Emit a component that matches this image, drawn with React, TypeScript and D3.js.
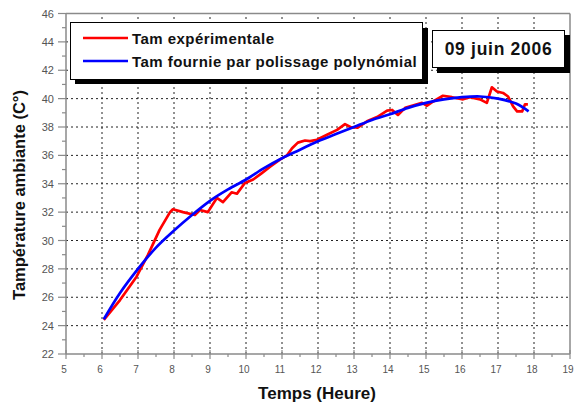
import React from "react";
import * as d3 from "d3";

// Measured ambient temperature (hour, °C)
const expHours = [6.05, 6.5, 6.96, 7.28, 7.6, 7.89, 7.97, 8.25, 8.58, 8.72, 8.94, 9.19, 9.36, 9.6, 9.75, 9.97, 10.2, 10.44, 10.67, 10.94, 11.14, 11.28, 11.44, 11.64, 11.78, 11.97, 12.25, 12.53, 12.75, 12.9, 13.1, 13.36, 13.64, 13.92, 14.06, 14.22, 14.42, 14.75, 14.89, 15.03, 15.2, 15.47, 15.72, 16.03, 16.22, 16.5, 16.69, 16.83, 16.97, 17.14, 17.28, 17.42, 17.53, 17.67, 17.75, 17.83];
const expTemps = [24.4, 25.8, 27.45, 29.0, 30.75, 32.0, 32.2, 32.0, 31.8, 32.15, 32.0, 33.0, 32.7, 33.4, 33.3, 34.05, 34.3, 34.75, 35.2, 35.7, 36.0, 36.5, 36.9, 37.05, 37.0, 37.1, 37.45, 37.8, 38.2, 38.0, 37.95, 38.4, 38.7, 39.15, 39.2, 38.85, 39.35, 39.6, 39.7, 39.5, 39.8, 40.2, 40.1, 39.95, 40.1, 39.95, 39.7, 40.8, 40.5, 40.4, 40.15, 39.45, 39.1, 39.1, 39.6, 39.6];

// Polynomial fit (hour, °C)
const fitHours = [6.05, 6.5, 7, 7.5, 8, 8.5, 9, 9.5, 10, 10.5, 11, 11.5, 12, 12.5, 13, 13.5, 14, 14.5, 15, 15.5, 16, 16.5, 17, 17.5, 17.85];
const fitTemps = [24.45, 26.3, 28.0, 29.5, 30.7, 31.8, 32.8, 33.6, 34.3, 35.1, 35.8, 36.4, 37.0, 37.5, 38.0, 38.5, 38.9, 39.35, 39.7, 39.95, 40.1, 40.15, 40.0, 39.65, 39.1];

const xTicks = [5, 6, 7, 8, 9, 10, 11, 12, 13, 14, 15, 16, 17, 18, 19];
const yTicks = [22, 24, 26, 28, 30, 32, 34, 36, 38, 40, 42, 44, 46];

const legendLabels = ["Tam expérimentale", "Tam fournie par polissage polynómial"];
const dateLabel = "09 juin 2006";

export default function App() {
  const W = 576, H = 407;
  const x = d3.scaleLinear().domain([5, 19]).range([66, 570]);
  const y = d3.scaleLinear().domain([22, 46]).range([354, 13.5]);

  const expData = expHours.map((h, i) => [h, expTemps[i]] as [number, number]);
  const fitData = fitHours.map((h, i) => [h, fitTemps[i]] as [number, number]);

  const lineExp = d3.line<[number, number]>().x(d => x(d[0])).y(d => y(d[1])).curve(d3.curveLinear);
  const lineFit = d3.line<[number, number]>().x(d => x(d[0])).y(d => y(d[1])).curve(d3.curveCatmullRom);

  const minorX = d3.range(5.5, 19, 1);
  const minorY = d3.range(23, 46, 2);
  const font = "Arial, 'Liberation Sans', sans-serif";
  const axisGray = "#8a8a8a";

  return (
    <svg width={W} height={H} style={{ position: "absolute", left: 0, top: 0, background: "#fff" }}>
      {/* grid */}
      {xTicks.slice(1, -1).map(t => (
        <line key={"gx" + t} x1={x(t)} x2={x(t)} y1={y(22)} y2={y(46)} stroke="#222" strokeWidth={1} strokeDasharray="2,3" />
      ))}
      {yTicks.slice(1, -1).map(t => (
        <line key={"gy" + t} x1={x(5)} x2={x(19)} y1={y(t)} y2={y(t)} stroke="#222" strokeWidth={1} strokeDasharray="2,3" />
      ))}

      {/* frame */}
      <line x1={x(5)} x2={x(19)} y1={y(46)} y2={y(46)} stroke={axisGray} strokeWidth={1.5} />
      <line x1={x(19)} x2={x(19)} y1={y(46)} y2={y(22)} stroke={axisGray} strokeWidth={1.5} />
      <line x1={x(5)} x2={x(5)} y1={y(46)} y2={y(22)} stroke={axisGray} strokeWidth={1.5} />
      <line x1={x(5)} x2={x(19)} y1={y(22)} y2={y(22)} stroke={axisGray} strokeWidth={1.5} />

      {/* y ticks */}
      {yTicks.map(t => (
        <g key={"yt" + t}>
          <line x1={x(5) - 8} x2={x(5)} y1={y(t)} y2={y(t)} stroke={axisGray} strokeWidth={1.2} />
          <text x={54} y={y(t) + 4} textAnchor="end" fontSize={11} fill="#555" fontFamily={font}>{t}</text>
        </g>
      ))}
      {minorY.map(t => (
        <line key={"ym" + t} x1={x(5) - 4} x2={x(5)} y1={y(t)} y2={y(t)} stroke={axisGray} strokeWidth={1.2} />
      ))}

      {/* x ticks */}
      {xTicks.map(t => (
        <g key={"xt" + t}>
          <line x1={x(t)} x2={x(t)} y1={y(22) - 4} y2={y(22) + 5} stroke={axisGray} strokeWidth={1.2} />
          <text x={x(t) - 2} y={373} textAnchor="middle" fontSize={10} fill="#555" fontFamily={font}>{t}</text>
        </g>
      ))}
      {minorX.map(t => (
        <line key={"xm" + t} x1={x(t)} x2={x(t)} y1={y(22)} y2={y(22) + 3} stroke={axisGray} strokeWidth={1.2} />
      ))}

      {/* series */}
      <path d={lineExp(expData) || ""} fill="none" stroke="#ff0000" strokeWidth={2.7} strokeLinejoin="round" />
      <path d={lineFit(fitData) || ""} fill="none" stroke="#0000ff" strokeWidth={2.7} strokeLinejoin="round" />

      {/* legend */}
      <rect x={75} y={28} width={353} height={56} fill="#000" />
      <rect x={70.5} y={22.5} width={352} height={57} fill="#fff" stroke="#000" strokeWidth={1} />
      <line x1={83} x2={128} y1={38} y2={38} stroke="#ff0000" strokeWidth={2.5} />
      <line x1={83} x2={128} y1={61} y2={61} stroke="#0000ff" strokeWidth={2.5} />
      <text x={132} y={43.5} fontSize={15} letterSpacing={0.45} fontWeight="bold" fill="#111" fontFamily={font}>{legendLabels[0]}</text>
      <text x={132} y={66.5} fontSize={15} letterSpacing={0.45} fontWeight="bold" fill="#111" fontFamily={font}>{legendLabels[1]}</text>

      {/* date box */}
      <rect x={437} y={35} width={133} height={38} fill="#000" />
      <rect x={432.5} y={30.5} width={132} height={37} fill="#fff" stroke="#000" strokeWidth={1} />
      <text x={498.5} y={55} textAnchor="middle" fontSize={17.5} letterSpacing={0.7} fontWeight="bold" fill="#111" fontFamily={font}>{dateLabel}</text>

      {/* axis titles */}
      <text x={317} y={399} textAnchor="middle" fontSize={17} fontWeight="bold" fill="#111" fontFamily={font}>Temps (Heure)</text>
      <text transform="translate(25,195) rotate(-90)" textAnchor="middle" fontSize={16.5} fontWeight="bold" fill="#111" fontFamily={font}>Tampérature ambiante (C°)</text>
    </svg>
  );
}
